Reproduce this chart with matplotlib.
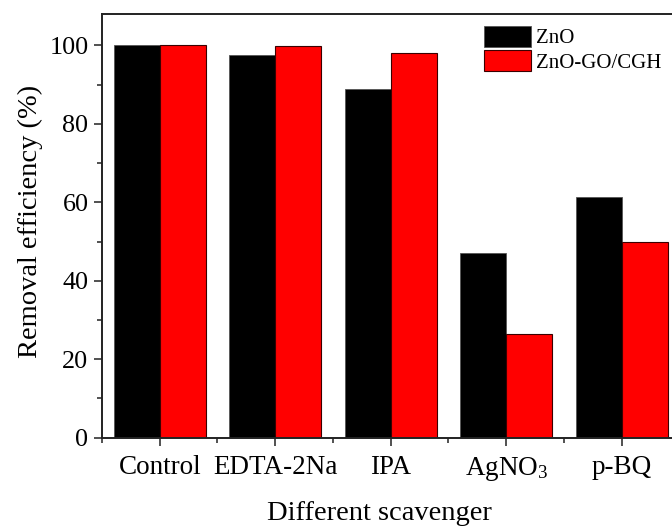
import numpy as np
import matplotlib
matplotlib.use("Agg")
import matplotlib.pyplot as plt
from matplotlib.ticker import FixedLocator

plt.rcParams["font.family"] = ["Liberation Serif", "DejaVu Serif"]
plt.rcParams["mathtext.fontset"] = "custom"
plt.rcParams["mathtext.rm"] = "Liberation Serif"
plt.rcParams["mathtext.it"] = "Liberation Serif:italic"

# data
categories = ["Control", "EDTA-2Na", "IPA", r"AgNO$_\mathregular{3}$", "p-BQ"]
zno = [100.0, 97.5, 88.8, 47.0, 61.4]
zno_go_cgh = [100.0, 99.8, 98.0, 26.4, 49.9]
series_names = ["ZnO", "ZnO-GO/CGH"]


def make_plot():
    fig = plt.figure(figsize=(6.72, 5.27), dpi=100)
    # axes extends past the right edge of the picture, like the cropped original
    left, bottom = 102 / 672, 1 - 437.7 / 527
    width, height = 577.5 / 672, (437.7 - 14) / 527
    ax = fig.add_axes([left, bottom, width, height])

    x = np.arange(1, len(categories) + 1)
    bw = 0.4
    ax.bar(x - bw / 2, zno, width=bw, color="black", edgecolor="#555555",
           linewidth=0.6, label=series_names[0])
    ax.bar(x + bw / 2, zno_go_cgh, width=bw, color="red", edgecolor="#3a0000",
           linewidth=0.8, label=series_names[1])

    ax.set_xlim(0.5, 5.5)
    ax.set_ylim(0, 108)

    ax.set_xticks(x)
    ax.set_xticklabels(categories)
    ax.xaxis.set_minor_locator(FixedLocator(np.arange(0.5, 5.6, 1.0)))
    ax.set_yticks(np.arange(0, 101, 20))
    ax.yaxis.set_minor_locator(FixedLocator(np.arange(10, 100, 20)))

    for s in ax.spines.values():
        s.set_linewidth(1.4)
        s.set_color("#222222")
    ax.tick_params(which="major", direction="out", length=5.8, width=1.1,
                   color="#222222")
    ax.tick_params(which="minor", direction="out", length=3.6, width=1.1,
                   color="#222222")
    ax.tick_params(axis="y", which="major", pad=4.0, labelsize=18.8)
    ax.tick_params(axis="x", which="major", pad=7, labelsize=19.5)

    ax.set_xlabel("Different scavenger", fontsize=20.5)
    ax.xaxis.set_label_coords(0.48, -0.150)
    ax.set_ylabel("Removal efficiency (%)", fontsize=20.5)
    ax.yaxis.set_label_coords(-0.102, 0.511)

    ax.legend(loc="upper left", bbox_to_anchor=(484 / 672, 1 - 26 / 527),
              bbox_transform=fig.transFigure, frameon=False, fontsize=15,
              borderpad=0, borderaxespad=0, handlelength=2.26,
              handleheight=1.15, handletextpad=0.24, labelspacing=0.1)

    fig.savefig("out.png", dpi=100)


if __name__ == "__main__":
    make_plot()
